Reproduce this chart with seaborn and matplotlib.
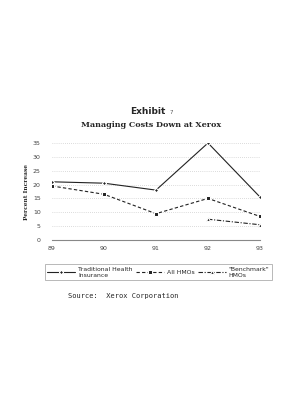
import pandas as pd
import numpy as np
import seaborn as sns
import matplotlib.pyplot as plt

years = [89, 90, 91, 92, 93]
traditional = [21, 20.5, 18, 35, 15.5]
all_hmos = [19.5, 16.5, 9.5, 15, 8.5]
benchmark = [np.nan, np.nan, np.nan, 7.5, 5.5]
yticks = [0, 5, 10, 15, 20, 25, 30, 35]

sns.set_style('white')
plt.rcParams['font.family'] = ['DejaVu Sans']

fig = plt.figure(figsize=(3.02, 4.0), dpi=100)
ax = fig.add_axes([0.172, 0.4, 0.689, 0.2425])

sns.lineplot(x=years, y=traditional, ax=ax, color='#222222', lw=0.8,
             marker='D', markersize=2.2, label='Traditional Health\nInsurance')
sns.lineplot(x=years, y=all_hmos, ax=ax, color='#222222', lw=0.8, linestyle=(0, (3, 2)),
             marker='s', markersize=2.8, label='All HMOs')
sns.lineplot(x=years, y=benchmark, ax=ax, color='#222222', lw=0.8, linestyle=(0, (4, 1.5, 1, 1.5)),
             marker='^', markersize=2.8, label='"Benchmark"\nHMOs')

ax.set_xlim(89, 93)
ax.set_ylim(0, 35)
ax.set_xticks(years)
ax.set_xticklabels([str(y) for y in years], fontsize=4.5, color='#444444')
ax.set_yticks(yticks)
ax.set_yticklabels([str(t) for t in yticks], fontsize=4.5, color='#444444')
for t in yticks[1:]:
    ax.axhline(t, color='#bbbbbb', lw=0.5, linestyle=(0, (1, 2)), zorder=0)
for s in ['top', 'right', 'left']:
    ax.spines[s].set_visible(False)
ax.spines['bottom'].set_color('#888888')
ax.spines['bottom'].set_linewidth(0.8)
ax.tick_params(axis='both', length=2, width=0.5, color='#888888', pad=2)
ax.tick_params(axis='y', length=0, pad=8)
ax.set_ylabel('Percent Increase', fontsize=4.2, fontweight='bold', family='serif', labelpad=3)

handles, labels = ax.get_legend_handles_labels()
ax.get_legend().remove()
leg = fig.legend(handles, labels, ncol=3, fontsize=4.4, loc='lower left',
                 bbox_to_anchor=(0.149, 0.3, 0.751, 0.055), mode='expand',
                 frameon=True, fancybox=False, edgecolor='#999999',
                 handlelength=4.5, handletextpad=0.5, borderaxespad=0)
leg.get_frame().set_linewidth(0.6)

fig.text(0.49, 0.722, 'Exhibit', fontsize=6.5, fontweight='bold', ha='center', va='center')
fig.text(0.567, 0.72, '7', fontsize=4, ha='center', va='center', color='#555555')
fig.text(0.5, 0.687, 'Managing Costs Down at Xerox', fontsize=5.8, fontweight='bold',
         family='serif', ha='center', va='center')
fig.text(0.225, 0.26, 'Source:  Xerox Corporation', fontsize=5, family='monospace',
         ha='left', va='center')

fig.savefig('out.png', dpi=100)
